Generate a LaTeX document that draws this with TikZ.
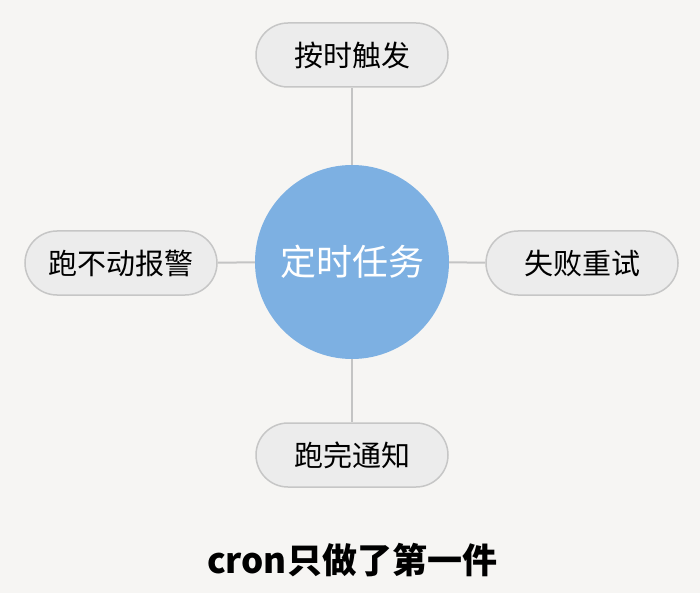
\documentclass[tikz,border=0pt]{standalone}
\usepackage{fontspec}
\setmainfont{Noto Sans CJK SC}
\usetikzlibrary{positioning}
\definecolor{bgcol}{HTML}{F6F5F3}
\definecolor{pillfill}{HTML}{ECECEC}
\definecolor{pillline}{HTML}{C6C6C6}
\definecolor{hubfill}{HTML}{7DB0E2}
\definecolor{linkcol}{HTML}{C4C4C4}

\begin{document}
\begin{tikzpicture}[x=1pt,y=-1pt,
  pill/.style={rounded corners=32pt, draw=pillline, line width=1.5pt, fill=pillfill,
    minimum width=192pt, minimum height=64pt, font=\fontsize{29}{33}\selectfont},
  hub/.style={circle, fill=hubfill, minimum size=194pt, text=white,
    font=\fontsize{36}{42}\selectfont},
  link/.style={draw=linkcol, line width=2pt}
]
\fill[bgcol] (0,0) rectangle (700,593);
\useasboundingbox (0,0) rectangle (700,593);

% Knoten
\node[hub] (task) at (352,262) {定时任务};
\node[pill] (trigger) at (352,55) {按时触发};
\node[pill] (alarm) at (121,263) {跑不动报警};
\node[pill] (retry) at (582,263) {失败重试};
\node[pill] (notify) at (352,455) {跑完通知};
\node[font=\fontsize{35}{40}\selectfont\bfseries] (caption) at (352,560) {cron只做了第一件};

% Verbindungen
\draw[link] (task) -- (trigger);
\draw[link] (task) -- (alarm);
\draw[link] (task) -- (retry);
\draw[link] (task) -- (notify);
\end{tikzpicture}
\end{document}
